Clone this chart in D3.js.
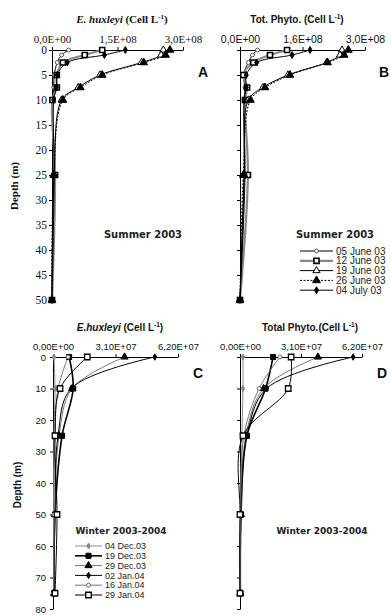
<!DOCTYPE html>
<html>
<head>
<meta charset="utf-8">
<script src="https://cdn.jsdelivr.net/npm/d3@7"></script>
<style>
  html, body { margin: 0; padding: 0; background: #fff; }
  svg { display: block; }
</style>
</head>
<body>
<svg id="chart" width="391" height="615"></svg>
<script>
// ---- Summer 2003 profiles (cells per litre) ----
const summerDepths = [0, 1, 2.5, 5, 7.5, 10, 25, 50];
const summerDates = ["05 June 03", "12 June 03", "19 June 03", "26 June 03", "04 July 03"];
const ehuxSummer = [
  [3.8e7, 2.2e7, 1.2e7, 5e6, 4e6, 2e6, 2e6, 0],
  [1.15e8, 7.5e7, 2.5e7, 1.1e7, 1.1e7, 1e6, 7e6, 0],
  [2.55e8, 2.5e8, 2.05e8, 1.1e8, 6.0e7, 2.2e7, 5e6, 0],
  [2.7e8, 2.6e8, 2.1e8, 1.15e8, 6.5e7, 2.5e7, 4e6, 0],
  [1.68e8, 1.2e8, 3.5e7, 1.2e7, 1.0e7, 4e6, 5e6, 0]
];
const phytoSummer = [
  [4.2e7, 3.0e7, 2.0e7, 8e6, 1.2e7, 1.0e7, 1.0e7, 0],
  [1.13e8, 7.2e7, 3.2e7, 8e6, 1.7e7, 1.2e7, 1.9e7, 0],
  [2.45e8, 2.4e8, 2.08e8, 1.15e8, 5.5e7, 2.0e7, 1.0e7, 0],
  [2.6e8, 2.5e8, 2.1e8, 1.2e8, 6.0e7, 2.5e7, 8e6, 0],
  [1.68e8, 1.25e8, 4.0e7, 1.5e7, 1.5e7, 1.0e7, 1.2e7, 0]
];
const summerTicks = [0, 1.5e8, 3e8];
const ehuxSummerTickLabels = ["0,0E+00", "1,5E+08", "3,0E+08"];
const phytoSummerTickLabels = ["0,0E+00", "1,6E+08", "3,0E+08"];
const summerDepthTicks = [0, 5, 10, 15, 20, 25, 30, 35, 40, 45, 50];

// ---- Winter 2003-2004 profiles (cells per litre) ----
const winterDepths = [0, 10, 25, 50, 75];
const winterDates = ["04 Dec.03", "19 Dec.03", "29 Dec.03", "02 Jan.04", "16 Jan.04", "29 Jan.04"];
const ehuxWinter = [
  [5e5, 1.0e6, 5e5, 3e5, 2e5],
  [8.0e6, 1.0e7, 4.5e6, 1.0e6, 5e5],
  [3.55e7, 9.5e6, 3.0e6, 1.0e6, 5e5],
  [5.05e7, 9.0e6, 2.5e6, 1.0e6, 5e5],
  [7.5e6, 2.5e6, 1.0e6, 5e5, 3e5],
  [1.7e7, 3.5e6, 1.0e6, 2.0e6, 1.0e6]
];
const phytoWinter = [
  [1.5e6, 1.5e6, 1.0e6, 5e5, 2e5],
  [1.68e7, 1.3e7, 3.5e6, 5e5, 2e5],
  [3.96e7, 1.2e7, 3.0e6, 5e5, 2e5],
  [5.75e7, 1.35e7, 3.5e6, 5e5, 2e5],
  [2.03e7, 9.7e6, 2.0e6, 3e5, 2e5],
  [2.6e7, 2.45e7, 1.5e6, 0, 0]
];
const winterTicks = [0, 3.1e7, 6.2e7];
const winterTickLabels = ["0,00E+00", "3,10E+07", "6,20E+07"];
const winterDepthTicks = [0, 10, 20, 30, 40, 50, 60, 70, 80];

// ---- series appearance ----
const summerStyles = [
  { stroke: "#000", width: 1, dash: null, sym: d3.symbolCircle, size: 12, fill: "#fff", mstroke: "#555" },
  { stroke: "#8a8a8a", width: 2.2, dash: null, sym: d3.symbolSquare, size: 26, fill: "#fff", mstroke: "#000", mwidth: 1.6 },
  { stroke: "#000", width: 1, dash: null, sym: d3.symbolTriangle, size: 22, fill: "#fff", mstroke: "#000" },
  { stroke: "#000", width: 1, dash: "2,1.5", sym: d3.symbolTriangle, size: 26, fill: "#000", mstroke: "#000" },
  { stroke: "#000", width: 1, dash: null, sym: d3.symbolDiamond, size: 14, fill: "#000", mstroke: "#000" }
];
const winterStyles = [
  { stroke: "#8a8a8a", width: 1, dash: null, sym: d3.symbolDiamond, size: 10, fill: "#8a8a8a", mstroke: "#8a8a8a" },
  { stroke: "#000", width: 1.6, dash: null, sym: d3.symbolSquare, size: 26, fill: "#000", mstroke: "#000" },
  { stroke: "#777", width: 1, dash: null, sym: d3.symbolTriangle, size: 22, fill: "#000", mstroke: "#000" },
  { stroke: "#000", width: 1, dash: null, sym: d3.symbolDiamond, size: 12, fill: "#000", mstroke: "#000" },
  { stroke: "#777", width: 1, dash: null, sym: d3.symbolCircle, size: 12, fill: "#fff", mstroke: "#666" },
  { stroke: "#000", width: 1, dash: null, sym: d3.symbolSquare, size: 30, fill: "#fff", mstroke: "#000", mwidth: 1.3 }
];

const SANS = "'Liberation Sans', Arial, sans-serif";
const SERIF = "'Liberation Serif', 'Times New Roman', serif";
const WIDE = "'DejaVu Sans', Verdana, sans-serif";

const svg = d3.select("#chart");

function marker(g, style, cx, cy) {
  g.append("path")
    .attr("d", d3.symbol().type(style.sym).size(style.size)())
    .attr("transform", `translate(${cx},${cy})`)
    .attr("fill", style.fill)
    .attr("stroke", style.mstroke)
    .attr("stroke-width", style.mwidth || 1);
}

function panel(opt) {
  const x = d3.scaleLinear().domain([0, opt.xMax]).range(opt.xRange);
  const y = d3.scaleLinear().domain([0, opt.yMax]).range(opt.yRange);
  const g = svg.append("g");

  // top value axis
  const xa = g.append("g")
    .attr("transform", `translate(0,${opt.yRange[0]})`)
    .call(d3.axisTop(x).tickValues(opt.xTicks)
      .tickFormat((d, i) => opt.xLabels[i]).tickSize(3).tickSizeOuter(0).tickPadding(opt.xPad));
  xa.selectAll("text").attr("font-family", opt.tickFont).attr("font-size", opt.xFontSize).attr("fill", "#111");

  // left depth axis
  const ya = g.append("g")
    .attr("transform", `translate(${opt.xRange[0]},0)`)
    .call(d3.axisLeft(y).tickValues(opt.yTicks)
      .tickFormat(opt.showDepthLabels ? d3.format("d") : () => "")
      .tickSize(3).tickSizeOuter(0).tickPadding(opt.yPad));
  ya.selectAll("text").attr("font-family", opt.tickFont).attr("font-size", opt.yFontSize).attr("fill", "#111");
  g.selectAll(".domain, .tick line").attr("stroke", "#000").attr("stroke-width", 1);

  // profiles
  const line = d3.line()
    .x(d => x(d[1]))
    .y(d => y(d[0]))
    .curve(d3.curveCatmullRom.alpha(0.5));
  opt.series.forEach((vals, i) => {
    const st = opt.styles[i];
    const pts = opt.depths.map((dp, j) => [dp, vals[j]]);
    g.append("path")
      .attr("d", line(pts))
      .attr("fill", "none")
      .attr("stroke", st.stroke)
      .attr("stroke-width", st.width)
      .attr("stroke-dasharray", st.dash);
  });
  opt.series.forEach((vals, i) => {
    const st = opt.styles[i];
    opt.depths.forEach((dp, j) => marker(g, st, x(vals[j]), y(dp)));
  });
  return g;
}

function title(xc, yb, parts, family, size) {
  const t = svg.append("text")
    .attr("x", xc).attr("y", yb)
    .attr("text-anchor", "middle")
    .attr("font-family", family)
    .attr("font-size", size)
    .attr("font-weight", "bold")
    .attr("fill", "#111");
  t.append("tspan").attr("font-style", "italic").text(parts[0]);
  t.append("tspan").text(parts[1]);
  t.append("tspan").attr("font-size", size * 0.65).attr("dy", -size * 0.38).text("-1");
  t.append("tspan").attr("dy", size * 0.38).text(")");
}

function depthLabel(xc, yc, family, size) {
  svg.append("text")
    .attr("transform", `translate(${xc},${yc}) rotate(-90)`)
    .attr("text-anchor", "middle")
    .attr("font-family", family)
    .attr("font-size", size)
    .attr("font-weight", "bold")
    .attr("fill", "#111")
    .text("Depth (m)");
}

function letter(xs, yb, txt) {
  svg.append("text")
    .attr("x", xs).attr("y", yb)
    .attr("font-family", SANS).attr("font-size", 14).attr("font-weight", "bold")
    .attr("fill", "#111").text(txt);
}

function seasonLabel(xc, yb, txt, size) {
  svg.append("text")
    .attr("x", xc).attr("y", yb).attr("text-anchor", "middle")
    .attr("font-family", WIDE).attr("font-size", size).attr("font-weight", "bold")
    .attr("fill", "#222").text(txt);
}

function legend(x0, x1, yTop, step, names, styles, size) {
  const g = svg.append("g");
  names.forEach((nm, i) => {
    const yy = yTop + i * step;
    const st = styles[i];
    g.append("line")
      .attr("x1", x0).attr("x2", x1).attr("y1", yy).attr("y2", yy)
      .attr("stroke", st.stroke).attr("stroke-width", st.width)
      .attr("stroke-dasharray", st.dash);
    marker(g, st, (x0 + x1) / 2, yy);
    g.append("text")
      .attr("x", x1 + 3).attr("y", yy + size * 0.36)
      .attr("font-family", SANS).attr("font-size", size).attr("fill", "#222")
      .text(nm);
  });
}

// ---- Panel A: E. huxleyi, summer ----
panel({
  xMax: 3e8, xRange: [52, 183], yMax: 50, yRange: [50, 300],
  xTicks: summerTicks, xLabels: ehuxSummerTickLabels, yTicks: summerDepthTicks,
  showDepthLabels: true, tickFont: SERIF, xFontSize: 11, yFontSize: 11.5, xPad: 4, yPad: 2,
  series: ehuxSummer, depths: summerDepths, styles: summerStyles
});
title(122, 23, ["E. huxleyi", " (Cell L"], SERIF, 11);
depthLabel(18, 186, SERIF, 11);
letter(198, 77, "A");
seasonLabel(143, 238, "Summer 2003", 10);

// ---- Panel B: total phytoplankton, summer ----
panel({
  xMax: 3e8, xRange: [240, 365], yMax: 50, yRange: [50, 300],
  xTicks: summerTicks, xLabels: phytoSummerTickLabels, yTicks: summerDepthTicks,
  showDepthLabels: false, tickFont: SANS, xFontSize: 10.5, yFontSize: 10, xPad: 4, yPad: 2,
  series: phytoSummer, depths: summerDepths, styles: summerStyles
});
title(297, 23, ["", "Tot. Phyto. (Cell L"], SANS, 10);
letter(379, 77, "B");
seasonLabel(335, 238, "Summer 2003", 10);
legend(300, 333, 251, 9.8, summerDates, summerStyles, 10);

// ---- Panel C: E. huxleyi, winter ----
panel({
  xMax: 6.2e7, xRange: [53, 178], yMax: 80, yRange: [357, 609],
  xTicks: winterTicks, xLabels: winterTickLabels, yTicks: winterDepthTicks,
  showDepthLabels: true, tickFont: SANS, xFontSize: 9.5, yFontSize: 9.5, xPad: 4, yPad: 4,
  series: ehuxWinter, depths: winterDepths, styles: winterStyles
});
title(120, 331, ["E.huxleyi", " (Cell L"], SANS, 10);
depthLabel(21, 485, SANS, 10);
letter(193, 378, "C");
seasonLabel(121, 534, "Winter 2003-2004", 9);
legend(75, 102, 546, 9.8, winterDates, winterStyles, 9);

// ---- Panel D: total phytoplankton, winter ----
panel({
  xMax: 6.2e7, xRange: [240, 362], yMax: 80, yRange: [357, 609],
  xTicks: winterTicks, xLabels: winterTickLabels, yTicks: winterDepthTicks,
  showDepthLabels: false, tickFont: SANS, xFontSize: 9.5, yFontSize: 9.5, xPad: 4, yPad: 2,
  series: phytoWinter, depths: winterDepths, styles: winterStyles
});
title(310, 331, ["", "Total Phyto.(Cell L"], SANS, 10);
letter(377, 378, "D");
seasonLabel(322, 534, "Winter 2003-2004", 9);
</script>
</body>
</html>
